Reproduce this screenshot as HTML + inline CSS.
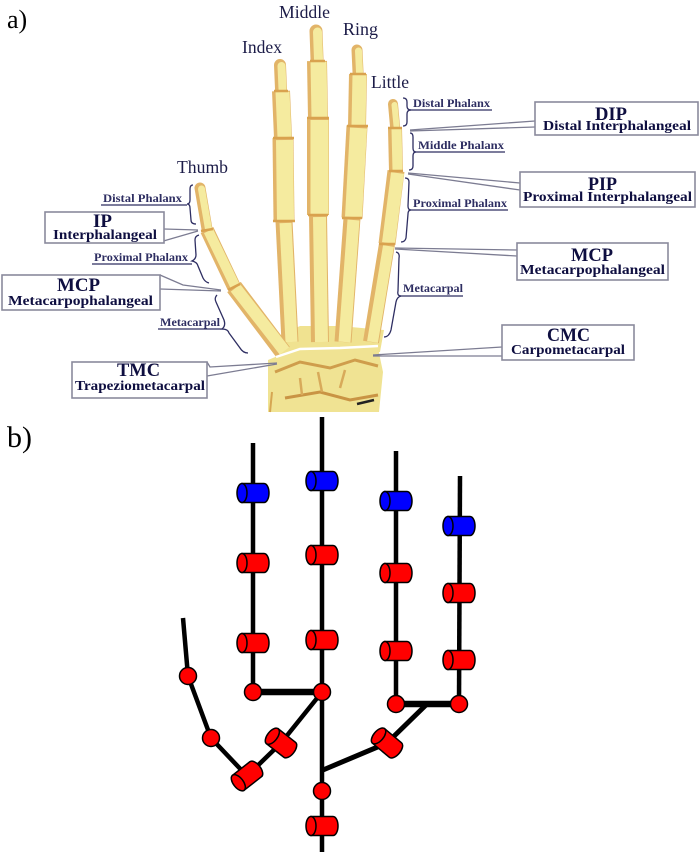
<!DOCTYPE html>
<html><head><meta charset="utf-8"><style>
html,body{margin:0;padding:0;background:#fff;}
svg{display:block;}
.bl{font-family:"Liberation Serif",serif;fill:#1c1c48;font-size:18px;}
.sm{font-family:"Liberation Serif",serif;fill:#2e2e62;font-size:12px;font-weight:bold;}
.bt{font-family:"Liberation Serif",serif;fill:#0e0e40;font-size:19px;font-weight:bold;}
.bs{font-family:"Liberation Serif",serif;fill:#0e0e40;font-size:14px;font-weight:bold;}
.ul{stroke:#2e2e62;stroke-width:1.3;fill:none;}
.br{stroke:#2e2e62;stroke-width:1.3;fill:none;}
.cl{stroke:#7c7c92;stroke-width:1.3;fill:none;}
.bx{fill:#fff;stroke:#8a8a9c;stroke-width:1.6;}
.bo{stroke:#e2b468;stroke-linecap:butt;fill:none;}
.by{stroke:#f5eb9f;stroke-linecap:butt;fill:none;}
.bor{stroke:#e2b468;stroke-linecap:round;fill:none;}
.byr{stroke:#f5eb9f;stroke-linecap:round;fill:none;}
.jt{stroke:#d9a24e;stroke-width:2.5;fill:none;}
.k{stroke:#000;fill:none;stroke-linecap:butt;}
.cr{fill:#f00;stroke:#000;stroke-width:1.5;}
.cb{fill:#00f;stroke:#000;stroke-width:1.5;}
</style></head><body>
<svg width="700" height="858" viewBox="0 0 700 858" xmlns="http://www.w3.org/2000/svg">
<rect width="700" height="858" fill="#fff"/>

<!-- ===== a) hand ===== -->
<text x="7" y="28" style="font-family:'Liberation Serif',serif;font-size:26px;fill:#000">a)</text>

<!-- palm base / carpals -->
<polygon points="274,338 300,326 340,326 384,330 380,352 276,358" fill="#f0e290"/>
<polygon points="268,360 290,351 330,348 378,348 383,372 379,412 268,412" fill="#f0e393"/>
<path d="M275,372 L300,362 L330,368 L355,360 L378,366" stroke="#cf9d4c" stroke-width="3" fill="none"/>
<path d="M285,398 L320,392 L350,400 L378,395" stroke="#c99444" stroke-width="3" fill="none"/>
<path d="M300,378 L302,395 M318,372 L322,392 M345,370 L340,388" stroke="#d8aa5a" stroke-width="2.5" fill="none"/>
<path d="M357,404 L374,400" stroke="#222" stroke-width="2.5"/>
<path d="M270,412 L272,392" stroke="#d6a652" stroke-width="2"/>

<!-- bones -->
<g>
<!-- Index -->
<line class="bor" x1="280" y1="65" x2="281" y2="89" stroke-width="12"/>
<line class="byr" x1="281.5" y1="66" x2="282.5" y2="89" stroke-width="8"/>
<line class="bo" x1="281" y1="91" x2="283" y2="138" stroke-width="18"/>
<line class="by" x1="282.5" y1="92" x2="284.5" y2="137" stroke-width="14"/>
<line class="bo" x1="283" y1="138" x2="284" y2="221" stroke-width="21"/>
<line class="by" x1="284.5" y1="140" x2="285.5" y2="220" stroke-width="17"/>
<line class="bo" x1="284" y1="221" x2="290" y2="342" stroke-width="17"/>
<line class="by" x1="285.5" y1="223" x2="291.5" y2="342" stroke-width="12"/>
<!-- Middle -->
<line class="bor" x1="316" y1="31" x2="317" y2="59" stroke-width="13"/>
<line class="byr" x1="317.5" y1="32" x2="318.5" y2="59" stroke-width="9"/>
<line class="bo" x1="317" y1="61" x2="318" y2="118" stroke-width="20"/>
<line class="by" x1="318.5" y1="62" x2="319.5" y2="117" stroke-width="16"/>
<line class="bo" x1="318" y1="118" x2="318" y2="215" stroke-width="22"/>
<line class="by" x1="319.5" y1="120" x2="319.5" y2="214" stroke-width="18"/>
<line class="bo" x1="318" y1="215" x2="320" y2="342" stroke-width="18"/>
<line class="by" x1="319.5" y1="217" x2="321.5" y2="342" stroke-width="13"/>
<!-- Ring -->
<line class="bor" x1="357" y1="50" x2="358" y2="72" stroke-width="11"/>
<line class="byr" x1="358.5" y1="51" x2="359.5" y2="72" stroke-width="7"/>
<line class="bo" x1="358" y1="74" x2="357" y2="126" stroke-width="18"/>
<line class="by" x1="359.5" y1="75" x2="358.5" y2="125" stroke-width="14"/>
<line class="bo" x1="357" y1="126" x2="352" y2="218" stroke-width="21"/>
<line class="by" x1="358.5" y1="128" x2="353.5" y2="217" stroke-width="17"/>
<line class="bo" x1="352" y1="218" x2="343" y2="342" stroke-width="17"/>
<line class="by" x1="353.5" y1="220" x2="344.5" y2="342" stroke-width="12"/>
<!-- Little -->
<line class="bor" x1="393" y1="104" x2="395" y2="126" stroke-width="10"/>
<line class="byr" x1="394.5" y1="105" x2="396.5" y2="126" stroke-width="6"/>
<line class="bo" x1="395" y1="128" x2="396" y2="171" stroke-width="14"/>
<line class="by" x1="396.5" y1="129" x2="397.5" y2="170" stroke-width="10"/>
<line class="bo" x1="396" y1="171" x2="387" y2="244" stroke-width="17"/>
<line class="by" x1="397.5" y1="173" x2="388.5" y2="243" stroke-width="13"/>
<line class="bo" x1="387" y1="244" x2="371" y2="342" stroke-width="16"/>
<line class="by" x1="388.5" y1="246" x2="372.5" y2="342" stroke-width="11"/>
<!-- Thumb -->
<line class="bor" x1="200" y1="188" x2="207" y2="229" stroke-width="11"/>
<line class="byr" x1="201.5" y1="189" x2="208.5" y2="229" stroke-width="7"/>
<line class="bo" x1="207" y1="230" x2="234" y2="287" stroke-width="14"/>
<line class="by" x1="208.5" y1="231" x2="235.5" y2="287" stroke-width="10"/>
<line class="bo" x1="234" y1="287" x2="283" y2="352" stroke-width="17"/>
<line class="by" x1="235.5" y1="288" x2="284.5" y2="351" stroke-width="12"/>
<!-- joints -->
<path class="jt" d="M274,91 L288,91 M273,138 L294,138 M273,221 L295,221
M310,61 L325,61 M307,118 L329,118 M308,215 L328,215
M350,74 L366,74 M347,126 L368,126 M342,218 L362,218
M388,128 L402,128 M389,171 L403,171 M379,244 L395,244
M201,231 L213,229 M228,290 L240,284"/>
</g>
<path d="M276,357 L300,349 L340,348 L378,346" stroke="#fff" stroke-width="2.5" fill="none"/>

<!-- finger names -->
<text class="bl" x="242" y="53" textLength="40" lengthAdjust="spacingAndGlyphs">Index</text>
<text class="bl" x="279" y="18" textLength="51" lengthAdjust="spacingAndGlyphs">Middle</text>
<text class="bl" x="343" y="35" textLength="35" lengthAdjust="spacingAndGlyphs">Ring</text>
<text class="bl" x="371" y="88" textLength="38" lengthAdjust="spacingAndGlyphs">Little</text>
<text class="bl" x="177" y="173" textLength="51" lengthAdjust="spacingAndGlyphs">Thumb</text>

<!-- small labels left -->
<text class="sm" x="103" y="202" textLength="79" lengthAdjust="spacingAndGlyphs">Distal Phalanx</text>
<line class="ul" x1="101" y1="205" x2="187" y2="205"/>
<path class="br" d="M193,185 Q190,185 190,189 L190,200 Q190,204 187,204 Q190,204 190,208 L191,220 Q191,224 196,224"/>
<text class="sm" x="94" y="261" textLength="94" lengthAdjust="spacingAndGlyphs">Proximal Phalanx</text>
<line class="ul" x1="92" y1="264" x2="192" y2="264"/>
<path class="br" d="M199,235 Q195,236 195,240 L196,255 Q196,259 192,261 Q197,262 198,266 L203,278 Q205,282 209,283"/>
<text class="sm" x="160" y="326" textLength="60" lengthAdjust="spacingAndGlyphs">Metacarpal</text>
<line class="ul" x1="158" y1="329" x2="223" y2="329"/>
<path class="br" d="M217,295 Q214,298 216,302 L224,320 Q226,326 222,329 Q228,329 229,333 L240,348 Q243,353 248,353"/>

<!-- small labels right -->
<text class="sm" x="413" y="107" textLength="77" lengthAdjust="spacingAndGlyphs">Distal Phalanx</text>
<line class="ul" x1="410" y1="110" x2="492" y2="110"/>
<path class="br" d="M403,98 Q407,98 407,102 L407,106 Q407,110 411,110 Q407,110 407,114 L407,122 Q407,126 403,126"/>
<text class="sm" x="418" y="149" textLength="86" lengthAdjust="spacingAndGlyphs">Middle Phalanx</text>
<line class="ul" x1="414" y1="152" x2="505" y2="152"/>
<path class="br" d="M410,133 Q413,133 413,137 L413,148 Q413,152 416,152 Q413,152 413,156 L413,166 Q413,170 409,170"/>
<text class="sm" x="413" y="207" textLength="94" lengthAdjust="spacingAndGlyphs">Proximal Phalanx</text>
<line class="ul" x1="410" y1="210" x2="508" y2="210"/>
<path class="br" d="M405,178 Q409,178 409,182 L408,206 Q408,210 411,210 Q408,210 408,214 L406,238 Q405,242 401,242"/>
<text class="sm" x="403" y="292" textLength="60" lengthAdjust="spacingAndGlyphs">Metacarpal</text>
<line class="ul" x1="399" y1="296" x2="463" y2="296"/>
<path class="br" d="M396,252 Q400,253 399,258 L398,291 Q397,296 401,296 Q397,297 396,302 L391,330 Q389,337 384,337"/>

<!-- callout pointers -->
<path class="cl" d="M164,229 L198,230 M160,242 L198,231"/>
<path class="cl" d="M160,275 L183,285 L221,290 M160,289 L221,291"/>
<path class="cl" d="M207,362 L210,367 L277,363 M207,376 L277,364"/>
<path class="cl" d="M535,121 L410,130 M535,127 L410,131"/>
<path class="cl" d="M520,183 L408,173 M520,190 L408,174"/>
<path class="cl" d="M517,250 L395,248 M517,256 L395,249"/>
<path class="cl" d="M502,347 L373,355 M502,356 L373,356"/>

<!-- boxes -->
<rect class="bx" x="45" y="212" width="119" height="31"/>
<text class="bt" x="93" y="227" textLength="19" lengthAdjust="spacingAndGlyphs">IP</text>
<text class="bs" x="53" y="239" textLength="104" lengthAdjust="spacingAndGlyphs">Interphalangeal</text>

<rect class="bx" x="2" y="275" width="158" height="35"/>
<text class="bt" x="57" y="291" textLength="43" lengthAdjust="spacingAndGlyphs">MCP</text>
<text class="bs" x="8" y="305" textLength="145" lengthAdjust="spacingAndGlyphs">Metacarpophalangeal</text>

<rect class="bx" x="72" y="362" width="135" height="36"/>
<text class="bt" x="117" y="376" textLength="43" lengthAdjust="spacingAndGlyphs">TMC</text>
<text class="bs" x="75" y="390" textLength="130" lengthAdjust="spacingAndGlyphs">Trapeziometacarpal</text>

<rect class="bx" x="535" y="102" width="163" height="33"/>
<text class="bt" x="595" y="120" textLength="32" lengthAdjust="spacingAndGlyphs">DIP</text>
<text class="bs" x="543" y="130" textLength="148" lengthAdjust="spacingAndGlyphs">Distal Interphalangeal</text>

<rect class="bx" x="520" y="172" width="175" height="35"/>
<text class="bt" x="588" y="190" textLength="29" lengthAdjust="spacingAndGlyphs">PIP</text>
<text class="bs" x="523" y="201" textLength="169" lengthAdjust="spacingAndGlyphs">Proximal Interphalangeal</text>

<rect class="bx" x="517" y="243" width="151" height="37"/>
<text class="bt" x="571" y="261" textLength="42" lengthAdjust="spacingAndGlyphs">MCP</text>
<text class="bs" x="520" y="274" textLength="145" lengthAdjust="spacingAndGlyphs">Metacarpophalangeal</text>

<rect class="bx" x="502" y="325" width="132" height="35"/>
<text class="bt" x="547" y="341" textLength="43" lengthAdjust="spacingAndGlyphs">CMC</text>
<text class="bs" x="511" y="354" textLength="114" lengthAdjust="spacingAndGlyphs">Carpometacarpal</text>

<!-- ===== b) kinematic diagram ===== -->
<text x="7" y="447" style="font-family:'Liberation Serif',serif;font-size:30px;fill:#000">b)</text>

<g class="k">
<line x1="253" y1="443" x2="253" y2="692" stroke-width="4.5"/>
<line x1="322" y1="417" x2="322" y2="852" stroke-width="4.5"/>
<line x1="396" y1="451" x2="396" y2="704" stroke-width="4.5"/>
<line x1="460" y1="476" x2="459" y2="704" stroke-width="4.5"/>
<line x1="253" y1="692" x2="322" y2="692" stroke-width="6.5"/>
<line x1="396" y1="704" x2="459" y2="704" stroke-width="6.5"/>
<polyline points="427,704 387,743 323,770" stroke-width="5" stroke-linejoin="round"/>
<polyline points="322,692 281,743 247,776 211,738 188,676 183,618" stroke-width="4.5" stroke-linejoin="round"/>
</g>

<!-- circles -->
<circle class="cr" cx="253" cy="692" r="8.5"/>
<circle class="cr" cx="322" cy="692" r="8.5"/>
<circle class="cr" cx="396" cy="704" r="8.5"/>
<circle class="cr" cx="459" cy="704" r="8.5"/>
<circle class="cr" cx="322" cy="791" r="8.5"/>
<circle class="cr" cx="211" cy="738" r="8.5"/>
<circle class="cr" cx="188" cy="676" r="8.5"/>

<!-- cylinders -->
<g transform="translate(253,493)"><path class="cb" d="M-11,-9.5H11A5,9.5 0 0 1 11,9.5H-11Z"/><ellipse class="cb" cx="-11" cy="0" rx="5" ry="9.5"/></g>
<g transform="translate(253,563)"><path class="cr" d="M-11,-9.5H11A5,9.5 0 0 1 11,9.5H-11Z"/><ellipse class="cr" cx="-11" cy="0" rx="5" ry="9.5"/></g>
<g transform="translate(253,643)"><path class="cr" d="M-11,-9.5H11A5,9.5 0 0 1 11,9.5H-11Z"/><ellipse class="cr" cx="-11" cy="0" rx="5" ry="9.5"/></g>

<g transform="translate(322,481)"><path class="cb" d="M-11,-9.5H11A5,9.5 0 0 1 11,9.5H-11Z"/><ellipse class="cb" cx="-11" cy="0" rx="5" ry="9.5"/></g>
<g transform="translate(322,555)"><path class="cr" d="M-11,-9.5H11A5,9.5 0 0 1 11,9.5H-11Z"/><ellipse class="cr" cx="-11" cy="0" rx="5" ry="9.5"/></g>
<g transform="translate(322,640)"><path class="cr" d="M-11,-9.5H11A5,9.5 0 0 1 11,9.5H-11Z"/><ellipse class="cr" cx="-11" cy="0" rx="5" ry="9.5"/></g>

<g transform="translate(396,501)"><path class="cb" d="M-11,-9.5H11A5,9.5 0 0 1 11,9.5H-11Z"/><ellipse class="cb" cx="-11" cy="0" rx="5" ry="9.5"/></g>
<g transform="translate(396,573)"><path class="cr" d="M-11,-9.5H11A5,9.5 0 0 1 11,9.5H-11Z"/><ellipse class="cr" cx="-11" cy="0" rx="5" ry="9.5"/></g>
<g transform="translate(396,651)"><path class="cr" d="M-11,-9.5H11A5,9.5 0 0 1 11,9.5H-11Z"/><ellipse class="cr" cx="-11" cy="0" rx="5" ry="9.5"/></g>

<g transform="translate(459,526)"><path class="cb" d="M-11,-9.5H11A5,9.5 0 0 1 11,9.5H-11Z"/><ellipse class="cb" cx="-11" cy="0" rx="5" ry="9.5"/></g>
<g transform="translate(459,593)"><path class="cr" d="M-11,-9.5H11A5,9.5 0 0 1 11,9.5H-11Z"/><ellipse class="cr" cx="-11" cy="0" rx="5" ry="9.5"/></g>
<g transform="translate(459,660)"><path class="cr" d="M-11,-9.5H11A5,9.5 0 0 1 11,9.5H-11Z"/><ellipse class="cr" cx="-11" cy="0" rx="5" ry="9.5"/></g>

<g transform="translate(322,826)"><path class="cr" d="M-11,-9.5H11A5,9.5 0 0 1 11,9.5H-11Z"/><ellipse class="cr" cx="-11" cy="0" rx="5" ry="9.5"/></g>

<g transform="translate(387,743) rotate(40)"><path class="cr" d="M-11,-9.5H11A5,9.5 0 0 1 11,9.5H-11Z"/><ellipse class="cr" cx="-11" cy="0" rx="5" ry="9.5"/></g>
<g transform="translate(281,743) rotate(38)"><path class="cr" d="M-11,-9.5H11A5,9.5 0 0 1 11,9.5H-11Z"/><ellipse class="cr" cx="-11" cy="0" rx="5" ry="9.5"/></g>
<g transform="translate(247,776) rotate(-38)"><path class="cr" d="M-11,-9.5H11A5,9.5 0 0 1 11,9.5H-11Z"/><ellipse class="cr" cx="-11" cy="0" rx="5" ry="9.5"/></g>
</svg>
</body></html>
